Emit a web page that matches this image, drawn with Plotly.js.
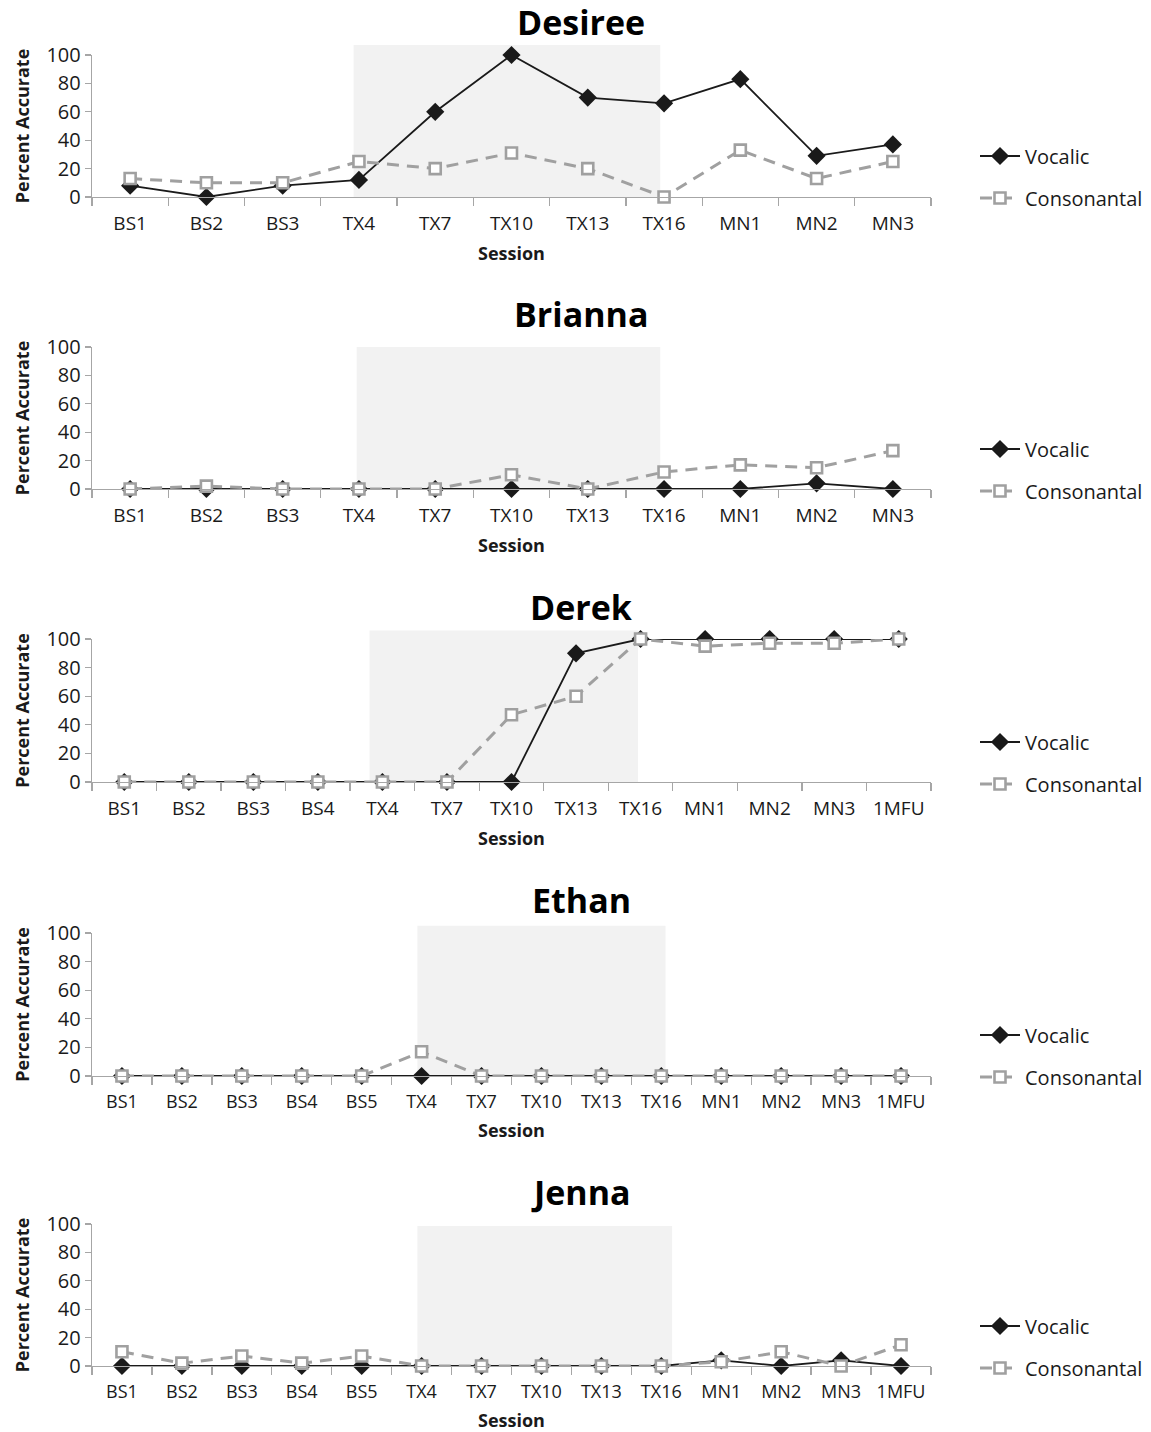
<!DOCTYPE html>
<html>
<head>
<meta charset="utf-8">
<script src="https://cdn.plot.ly/plotly-3.0.1.min.js"></script>
<style>html,body{margin:0;padding:0;background:#fff;}#chart{width:1151px;height:1432px;}</style>
</head>
<body>
<div id="chart"></div>
<script>
// ---- data ----
const names = ['Desiree', 'Brianna', 'Derek', 'Ethan', 'Jenna'];

const catsDesiree = ['BS1','BS2','BS3','TX4','TX7','TX10','TX13','TX16','MN1','MN2','MN3'];
const catsBrianna = ['BS1','BS2','BS3','TX4','TX7','TX10','TX13','TX16','MN1','MN2','MN3'];
const catsDerek   = ['BS1','BS2','BS3','BS4','TX4','TX7','TX10','TX13','TX16','MN1','MN2','MN3','1MFU'];
const catsEthan   = ['BS1','BS2','BS3','BS4','BS5','TX4','TX7','TX10','TX13','TX16','MN1','MN2','MN3','1MFU'];
const catsJenna   = ['BS1','BS2','BS3','BS4','BS5','TX4','TX7','TX10','TX13','TX16','MN1','MN2','MN3','1MFU'];

const vocDesiree = [8, 0, 8, 12, 60, 100, 70, 66, 83, 29, 37];
const conDesiree = [13, 10, 10, 25, 20, 31, 20, 0, 33, 13, 25];

const vocBrianna = [0, 0, 0, 0, 0, 0, 0, 0, 0, 4, 0];
const conBrianna = [0, 2, 0, 0, 0, 10, 0, 12, 17, 15, 27];

const vocDerek = [0, 0, 0, 0, 0, 0, 0, 90, 100, 100, 100, 100, 100];
const conDerek = [0, 0, 0, 0, 0, 0, 47, 60, 100, 95, 97, 97, 100];

const vocEthan = [0, 0, 0, 0, 0, 0, 0, 0, 0, 0, 0, 0, 0, 0];
const conEthan = [0, 0, 0, 0, 0, 17, 0, 0, 0, 0, 0, 0, 0, 0];

const vocJenna = [0, 0, 0, 0, 0, 0, 0, 0, 0, 0, 4, 0, 4, 0];
const conJenna = [10, 2, 7, 2, 7, 0, 0, 0, 0, 0, 3, 10, 0, 15];

// treatment-phase shading (category positions) and its top (percent)
const shadeStart = [2.93, 2.97, 3.8, 4.93, 4.93];
const shadeEnd   = [6.95, 6.95, 7.96, 9.07, 9.18];
const shadeTop   = [107, 100, 106, 105, 98.6];

const seriesNames = ['Vocalic', 'Consonantal'];

// ---- layout helpers ----
const H = 1432, W = 1151;
const py = p => 1 - p / H;
const px = p => p / W;

const cats = [catsDesiree, catsBrianna, catsDerek, catsEthan, catsJenna];
const voc = [vocDesiree, vocBrianna, vocDerek, vocEthan, vocJenna];
const con = [conDesiree, conBrianna, conDerek, conEthan, conJenna];

const plotTop    = [55, 347, 639, 933, 1224];
const plotBottom = [197, 489, 782, 1076, 1366];
const titleY     = [22, 314, 607, 900, 1192];
const legendY    = [177, 470, 763, 1056, 1347];
const xTickSize  = [19, 19, 19, 18, 18];

const FONT = '"Open Sans", "DejaVu Sans", sans-serif';
const axisGray = '#a6a6a6';

const traces = [];
const layout = {
  width: W, height: H,
  margin: {l: 0, r: 0, t: 0, b: 0},
  paper_bgcolor: '#ffffff',
  plot_bgcolor: 'rgba(0,0,0,0)',
  showlegend: true,
  font: {family: FONT, color: '#1a1a1a'},
  shapes: [],
  annotations: []
};

for (let i = 0; i < 5; i++) {
  const n = i + 1;
  const xk = n === 1 ? 'xaxis' : 'xaxis' + n;
  const yk = n === 1 ? 'yaxis' : 'yaxis' + n;
  const xr = n === 1 ? 'x' : 'x' + n;
  const yr = n === 1 ? 'y' : 'y' + n;
  const lk = n === 1 ? 'legend' : 'legend' + n;

  layout[xk] = {
    domain: [px(92), px(931)],
    anchor: yr,
    type: 'category',
    categoryorder: 'array',
    categoryarray: cats[i],
    range: [-0.5, cats[i].length - 0.5],
    showline: true, linecolor: axisGray, linewidth: 1.3,
    ticks: 'outside', tickson: 'boundaries', ticklen: 8, tickcolor: axisGray, tickwidth: 1.3,
    ticklabelstandoff: 9,
    tickangle: 0,
    showgrid: false, zeroline: false,
    tickfont: {size: xTickSize[i], family: FONT, color: '#1a1a1a'},
    title: {text: '<b>Session</b>', font: {size: 18, family: FONT, color: '#1a1a1a'}, standoff: 12},
    fixedrange: true
  };
  layout[yk] = {
    domain: [py(plotBottom[i]), py(plotTop[i])],
    anchor: xr,
    range: [0, 100],
    tickvals: [0, 20, 40, 60, 80, 100],
    showline: true, linecolor: axisGray, linewidth: 1.3,
    ticks: 'outside', ticklen: 6, tickcolor: axisGray, tickwidth: 1.3,
    showgrid: false, zeroline: false,
    tickfont: {size: 20, family: FONT, color: '#1a1a1a'},
    title: {text: '<b>Percent Accurate</b>', font: {size: 18, family: FONT, color: '#1a1a1a'}, standoff: 12},
    fixedrange: true
  };

  layout.shapes.push({
    type: 'rect', layer: 'below',
    xref: xr, yref: yr + ' domain',
    x0: shadeStart[i], x1: shadeEnd[i],
    y0: 0, y1: shadeTop[i] / 100,
    fillcolor: '#f2f2f2', line: {width: 0}
  });

  layout.annotations.push({
    xref: 'paper', yref: 'paper',
    x: px(581), y: py(titleY[i]),
    xanchor: 'center', yanchor: 'middle',
    text: '<b>' + names[i] + '</b>',
    showarrow: false,
    font: {size: 34, family: FONT, color: '#000000'}
  });

  layout[lk] = {
    x: px(975), y: py(legendY[i]),
    xanchor: 'left', yanchor: 'middle',
    bgcolor: 'rgba(0,0,0,0)',
    font: {size: 20, family: FONT, color: '#1a1a1a'},
    traceorder: 'grouped',
    tracegroupgap: 13,
    itemwidth: 40
  };

  traces.push({
    type: 'scatter', mode: 'lines+markers',
    x: cats[i], y: voc[i],
    xaxis: xr, yaxis: yr,
    name: seriesNames[0],
    legend: lk, legendgroup: 'v' + n,
    cliponaxis: false,
    line: {color: '#1a1a1a', width: 1.8},
    marker: {symbol: 'diamond', size: 14, color: '#1a1a1a', line: {width: 0}}
  });
  traces.push({
    type: 'scatter', mode: 'lines+markers',
    x: cats[i], y: con[i],
    xaxis: xr, yaxis: yr,
    name: seriesNames[1],
    legend: lk, legendgroup: 'c' + n,
    cliponaxis: false,
    line: {color: '#a0a0a0', width: 3, dash: '12px,8px'},
    marker: {symbol: 'square', size: 11, color: '#ffffff', line: {color: '#a0a0a0', width: 2.6}}
  });
}

Plotly.newPlot('chart', traces, layout, {staticPlot: true, displayModeBar: false});
</script>
</body>
</html>
